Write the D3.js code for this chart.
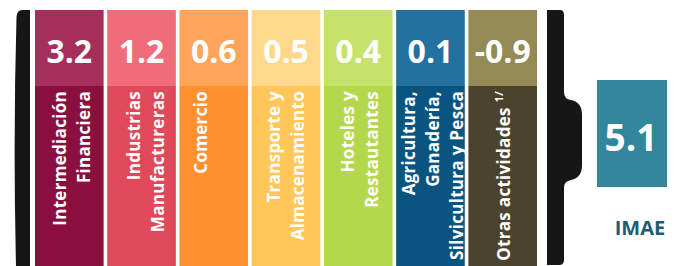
<!DOCTYPE html>
<html>
<head>
<meta charset="utf-8">
<script src="https://cdn.jsdelivr.net/npm/d3@7"></script>
<style>
  html, body { margin: 0; padding: 0; background: #fff; }
  svg { display: block; font-family: "Open Sans", "Noto Sans", sans-serif; }
</style>
</head>
<body>
<svg id="chart" width="680" height="266"></svg>
<script>
// Aportes al IMAE por actividad (puntos porcentuales)
const sectors = [
  "Intermediación Financiera",
  "Industrias Manufactureras",
  "Comercio",
  "Transporte y Almacenamiento",
  "Hoteles y Restautantes",
  "Agricultura, Ganadería, Silvicultura y Pesca",
  "Otras actividades"
];
const labelLines = [
  ["Intermediación", "Financiera"],
  ["Industrias", "Manufactureras"],
  ["Comercio"],
  ["Transporte y", "Almacenamiento"],
  ["Hoteles y", "Restautantes"],
  ["Agricultura,", "Ganadería,", "Silvicultura y Pesca"],
  ["Otras actividades"]
];
const contributions = [3.2, 1.2, 0.6, 0.5, 0.4, 0.1, -0.9];
const imaeTotal = 5.1;

const topColors = ["#a52f5a", "#f06c7b", "#ffa55a", "#ffd88c", "#c5e26b", "#22719f", "#938a56"];
const bottomColors = ["#8a0f3f", "#e0495a", "#ff9130", "#ffc65a", "#b4d84b", "#0a5480", "#4b432d"];

const svg = d3.select("#chart");

const x = d3.scaleBand()
  .domain(sectors)
  .range([35, 537])
  .paddingInner(0.05);

// top value box and bottom label box
const yTop = 10, ySplit = 86, yBottom = 266;

const cols = svg.selectAll("g.col")
  .data(sectors)
  .enter()
  .append("g")
  .attr("class", "col")
  .attr("transform", d => `translate(${x(d)},0)`);

cols.append("rect")
  .attr("y", yTop)
  .attr("width", x.bandwidth())
  .attr("height", ySplit - yTop)
  .attr("fill", (d, i) => topColors[i]);

cols.append("rect")
  .attr("y", ySplit)
  .attr("width", x.bandwidth())
  .attr("height", yBottom - ySplit)
  .attr("fill", (d, i) => bottomColors[i]);

// plain hyphen for negatives, like the original
const fmt = v => d3.format(".1f")(v).replace("\u2212", "-");
cols.append("text")
  .attr("x", x.bandwidth() / 2)
  .attr("y", 50)
  .attr("text-anchor", "middle")
  .attr("dominant-baseline", "central")
  .attr("fill", "#fff")
  .attr("font-weight", 700)
  .attr("font-size", 32)
  .text((d, i) => fmt(contributions[i]));

// rotated sector labels, right-aligned at the top of the lower box
const lineH = 24;
const labelShift = [2, 4, -13, -1, 1, 2, 1];
cols.each(function (d, i) {
  const lines = labelLines[i];
  const cx = x.bandwidth() / 2 + labelShift[i];
  const g = d3.select(this).append("g")
    .attr("transform", `translate(${cx},${ySplit + 5}) rotate(-90)`);
  lines.forEach((ln, j) => {
    const t = g.append("text")
      .attr("x", 0)
      .attr("y", (j - (lines.length - 1) / 2) * lineH)
      .attr("text-anchor", "end")
      .attr("dominant-baseline", "central")
      .attr("fill", "#fff")
      .attr("font-weight", 700)
      .attr("font-size", 17)
      .attr("letter-spacing", 0.3)
      .text(ln);
    if (i === sectors.length - 1) {
      t.text(ln + " ");
      t.append("tspan")
        .attr("font-size", 11)
        .attr("dy", -6)
        .text("1/");
    }
  });
});

// brackets
svg.append("path")
  .attr("d", "M30,10 H22 Q17,10 16.5,17 Q13,140 16,266 H30 Z")
  .attr("fill", "#161616");

svg.append("path")
  .attr("d", "M547,10 H560 Q564,10 564,15 V92 Q564,99 571,100 Q582,102 582,115 V165 " +
             "Q582,178 571,180 Q564,181 564,188 V260 Q564,265 559,265 H547 Z")
  .attr("fill", "#161616");

// IMAE total
svg.append("rect")
  .attr("x", 597)
  .attr("y", 80)
  .attr("width", 70)
  .attr("height", 107)
  .attr("fill", "#31869c");

svg.append("text")
  .attr("x", 631)
  .attr("y", 136)
  .attr("text-anchor", "middle")
  .attr("dominant-baseline", "central")
  .attr("fill", "#fff")
  .attr("font-weight", 700)
  .attr("font-size", 37)
  .text(fmt(imaeTotal));

svg.append("text")
  .attr("x", 640)
  .attr("y", 235)
  .attr("text-anchor", "middle")
  .attr("fill", "#1f5d70")
  .attr("font-weight", 700)
  .attr("font-size", 20)
  .text("IMAE");
</script>
</body>
</html>
